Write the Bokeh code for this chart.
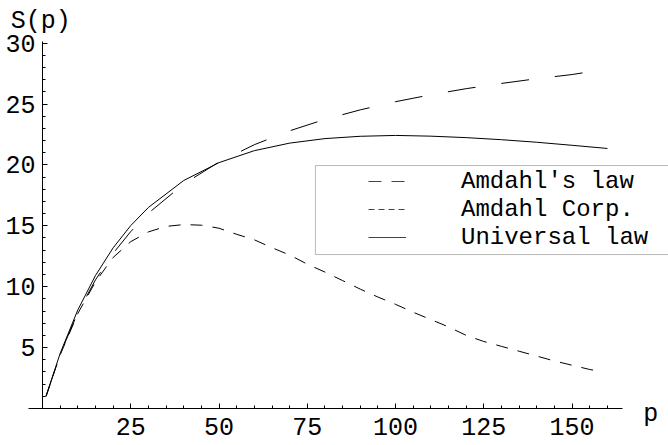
from bokeh.plotting import figure
from bokeh.models import Range1d, FixedTicker, Legend, LegendItem, BoxAnnotation, Label
from bokeh.embed import file_html
from bokeh.resources import INLINE

# Amdahl's law (long dashes)
p_amdahl = [1, 5, 10, 15, 20, 25, 30, 40, 50, 60, 70, 80, 90, 100, 110, 120, 130, 140, 150, 155]
s_amdahl = [1, 4.46, 7.87, 10.56, 12.74, 14.53, 16.04, 18.43, 20.24, 21.66, 22.80, 23.74,
            24.52, 25.19, 25.76, 26.26, 26.69, 27.08, 27.42, 27.65]

# Amdahl Corp. (short dashes)
p_corp = [1, 5, 10, 15, 20, 25, 30, 35, 40, 45, 50, 55, 60, 65, 70, 75, 80, 85, 90, 95, 100,
          105, 110, 115, 120, 125, 130, 135, 140, 145, 150, 155, 158]
s_corp = [1, 4.4, 7.8, 10.4, 12.4, 13.7, 14.5, 14.95, 15.1, 15.05, 14.8, 14.3, 13.85, 13.2,
          12.6, 11.85, 11.2, 10.5, 9.8, 9.15, 8.55, 7.9, 7.3, 6.7, 6.0, 5.5, 5.1, 4.7, 4.3,
          3.9, 3.55, 3.2, 3.05]

# Universal law (solid)
p_univ = [1, 5, 10, 15, 20, 25, 30, 40, 50, 60, 70, 80, 90, 100, 110, 120, 130, 140, 150, 160]
s_univ = [1, 4.53, 8.09, 10.92, 13.19, 15.02, 16.51, 18.72, 20.19, 21.17, 21.79, 22.16, 22.35,
          22.42, 22.36, 22.24, 22.07, 21.86, 21.61, 21.35]

x_major = [25, 50, 75, 100, 125, 150]
x_minor = list(range(5, 165, 5))
y_major = [5, 10, 15, 20, 25, 30]
y_minor = list(range(1, 31))

labels = ["Amdahl's law", "Amdahl Corp.", "Universal law"]

FONT = "Liberation Mono"

p = figure(width=668, height=445, output_backend="svg", toolbar_location=None,
           x_range=Range1d(-11.9, 177.3), y_range=Range1d(-3.04, 33.5),
           min_border=0, min_border_left=0, min_border_right=0,
           min_border_top=0, min_border_bottom=0)
p.outline_line_color = None
p.grid.visible = False
p.background_fill_color = "white"

for ax, ticks, minor, bnds in ((p.xaxis[0], x_major, x_minor, (-4, 164.3)),
                               (p.yaxis[0], y_major, y_minor, (0, 30.13))):
    ax.fixed_location = 0
    ax.bounds = bnds
    ax.ticker = FixedTicker(ticks=ticks, minor_ticks=minor)
    ax.axis_line_color = "black"
    ax.axis_line_width = 1
    ax.major_tick_in = 5
    ax.major_tick_out = 0
    ax.minor_tick_in = 3
    ax.minor_tick_out = 0
    ax.major_tick_line_color = "black"
    ax.minor_tick_line_color = "black"
    ax.major_label_text_font = FONT
    ax.major_label_text_font_size = "25px"
    ax.major_label_text_color = "black"

p.xaxis[0].major_label_standoff = 10
p.yaxis[0].major_label_standoff = 7

r1 = p.line(p_amdahl, s_amdahl, line_color="black", line_width=1, line_dash="28 26")
r2 = p.line(p_corp, s_corp, line_color="black", line_width=1, line_dash="12 10")
r3 = p.line(p_univ, s_univ, line_color="black", line_width=1)

# legend key samples (Mathematica draws the keys with their own, shorter dashing);
# single-vertex lines draw nothing in the plot itself
k1 = p.line(p_amdahl[:1], s_amdahl[:1], line_color="#444444", line_width=1, line_dash="13 10")
k2 = p.line(p_corp[:1], s_corp[:1], line_color="#444444", line_width=1, line_dash="6 4")
k3 = p.line(p_univ[:1], s_univ[:1], line_color="#444444", line_width=1)

box = BoxAnnotation(left=77.3, right=None, top=19.95, bottom=12.64,
                    fill_color="white", fill_alpha=1.0,
                    line_color="#1a1a1a", line_width=1)
p.add_layout(box)

legend = Legend(items=[LegendItem(label=labels[0], renderers=[k1]),
                       LegendItem(label=labels[1], renderers=[k2]),
                       LegendItem(label=labels[2], renderers=[k3])],
                location=(368, 194), padding=0, margin=0, spacing=0,
                glyph_width=38, glyph_height=28, label_height=28,
                label_standoff=55,
                label_text_font=FONT, label_text_font_size="24px",
                label_text_color="black",
                border_line_alpha=0, background_fill_alpha=0)
p.add_layout(legend)

p.add_layout(Label(x=-9.0, y=31.8, text="S(p)", text_font=FONT, text_font_size="25px",
                   text_align="left", text_baseline="alphabetic", text_color="black"))
p.add_layout(Label(x=172.3, y=-0.5, text="p", text_font=FONT, text_font_size="25px",
                   text_align="center", text_baseline="alphabetic", text_color="black"))

open("out.html", "w").write(file_html(p, INLINE))
